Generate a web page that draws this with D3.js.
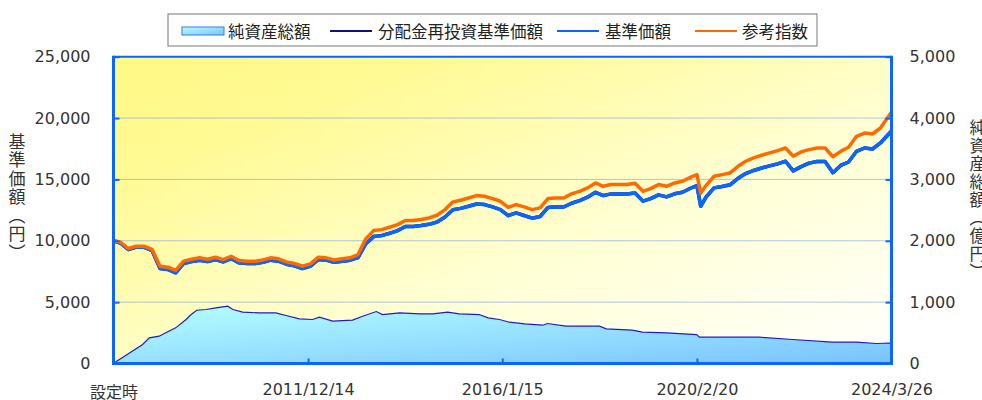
<html>
<meta charset='utf-8'>
<head>
<script src="https://d3js.org/d3.v7.min.js"></script>
<style>
  body { margin: 0; background: #fff; }
  svg text { font-family: "DejaVu Sans", Verdana, sans-serif; }
  svg .jp { font-family: "Noto Sans CJK JP", sans-serif; }
</style>
</head>
<body>
<div id='viz'></div>
<script>
// 基準価額・参考指数の日付
let dates = [
  "2007-11-09","2008-01-01","2008-03-01","2008-05-01","2008-07-01","2008-09-01","2008-11-01",
  "2009-01-01","2009-03-01","2009-05-01","2009-07-01","2009-09-01","2009-11-01",
  "2010-01-01","2010-03-01","2010-05-01","2010-07-01","2010-09-01","2010-11-01",
  "2011-01-01","2011-03-01","2011-05-01","2011-07-01","2011-09-01","2011-11-01",
  "2012-01-01","2012-03-01","2012-05-01","2012-07-01","2012-09-01","2012-11-01",
  "2013-01-01","2013-03-01","2013-05-01","2013-07-01","2013-09-01","2013-11-01",
  "2014-01-01","2014-03-01","2014-05-01","2014-07-01","2014-09-01","2014-11-01",
  "2015-01-01","2015-03-01","2015-05-01","2015-07-01","2015-09-01","2015-11-01",
  "2016-01-01","2016-03-01","2016-05-01","2016-07-01","2016-09-01","2016-11-01",
  "2017-01-01","2017-03-01","2017-05-01","2017-07-01","2017-09-01","2017-11-01",
  "2018-01-01","2018-03-01","2018-05-01","2018-07-01","2018-09-01","2018-11-01",
  "2019-01-01","2019-03-01","2019-05-01","2019-07-01","2019-09-01","2019-11-01",
  "2020-01-01","2020-02-20","2020-03-20","2020-05-01","2020-07-01","2020-09-01","2020-11-01",
  "2021-01-01","2021-03-01","2021-05-01","2021-07-01","2021-09-01","2021-11-01",
  "2022-01-01","2022-03-01","2022-05-01","2022-07-01","2022-09-01","2022-11-01",
  "2023-01-01","2023-03-01","2023-05-01","2023-07-01","2023-09-01","2023-11-01",
  "2024-01-01","2024-03-26"
];

// 参考指数
let refIndex = [
  10000, 9900, 9370, 9560, 9560, 9290, 7930,
  7850, 7580, 8340, 8500, 8610, 8500,
  8660, 8470, 8740, 8390, 8340, 8340,
  8440, 8610, 8530, 8280, 8150, 7930,
  8120, 8660, 8610, 8440, 8530, 8610,
  8880, 10150, 10830, 10910, 11100, 11320,
  11650, 11650, 11730, 11860, 12080, 12540,
  13170, 13300, 13490, 13680, 13630, 13440,
  13220, 12730, 12950, 12760, 12540, 12680,
  13440, 13490, 13490, 13820, 14030, 14310,
  14710, 14440, 14580, 14580, 14580, 14690,
  14030, 14250, 14580, 14440, 14710, 14850,
  15170, 15390, 13900, 14520, 15260, 15390, 15530,
  16070, 16480, 16750, 16970, 17160, 17350,
  17560, 16900, 17240, 17430, 17560, 17560,
  16850, 17290, 17620, 18510, 18780, 18700,
  19190, 20490
];

// 基準価額
let nav = [
  10000, 9820, 9290, 9480, 9480, 9200, 7740,
  7660, 7390, 8150, 8310, 8420, 8310,
  8470, 8280, 8550, 8200, 8150, 8150,
  8250, 8420, 8340, 8090, 7960, 7740,
  7930, 8470, 8420, 8250, 8340, 8420,
  8630, 9750, 10340, 10420, 10610, 10830,
  11160, 11160, 11240, 11340, 11530, 11940,
  12530, 12640, 12810, 13000, 12950, 12760,
  12540, 12050, 12270, 12060, 11840, 11980,
  12720, 12770, 12750, 13060, 13270, 13550,
  13950, 13680, 13820, 13820, 13820, 13900,
  13230, 13430, 13740, 13580, 13830, 13950,
  14280, 14500, 12810, 13570, 14310, 14430, 14560,
  15090, 15480, 15730, 15930, 16100, 16270,
  16480, 15700, 16040, 16330, 16460, 16460,
  15550, 16140, 16420, 17290, 17560, 17480,
  17970, 18950
];

// 分配金再投資基準価額 (分配なしのため基準価額と重なる)
let navReinvest = nav;

// 純資産総額 (億円)
let assetDates = [
  "2007-11-09","2008-04-01","2008-06-20","2008-08-10","2008-10-25","2008-12-15",
  "2009-03-01","2009-05-20","2009-06-28","2009-08-10","2009-10-20","2010-01-05",
  "2010-04-05","2010-05-15","2010-07-30","2010-12-05","2011-04-10","2011-06-28",
  "2011-10-08","2012-01-18","2012-03-10","2012-06-20","2012-11-20","2013-02-05",
  "2013-05-22","2013-07-08","2013-11-18","2014-04-20","2014-07-30","2014-11-20",
  "2015-02-20","2015-07-22","2015-09-28","2015-12-25","2016-03-10","2016-07-05",
  "2016-11-20","2016-12-28","2017-05-20","2018-02-01","2018-03-25","2018-10-10",
  "2018-12-28","2019-07-01","2020-02-18","2020-03-10","2020-07-20","2021-06-15",
  "2022-02-25","2022-12-28","2023-07-01","2023-12-01","2024-03-10","2024-03-26"
];
let assets = [
  5, 200, 310, 418, 445, 500,
  581, 717, 798, 868, 880, 907,
  934, 880, 836, 825, 825, 782,
  728, 717, 755, 690, 706, 771,
  847, 798, 825, 809, 809, 836,
  809, 798, 744, 717, 673, 646,
  624, 652, 608, 608, 565, 543,
  510, 500, 472, 429, 429, 429,
  391, 347, 347, 326, 334, 330
];

let xTickDates = ["2007-11-09","2011-12-14","2016-01-15","2020-02-20","2024-03-26"];
let xTickLabels = ["設定時","2011/12/14","2016/1/15","2020/2/20","2024/3/26"];
let leftTicks = [0, 5000, 10000, 15000, 20000, 25000];
let rightTicks = [0, 1000, 2000, 3000, 4000, 5000];
let gridTicks = [5000, 10000, 15000, 20000];
let legendLabels = ["純資産総額", "分配金再投資基準価額", "基準価額", "参考指数"];

let parse = d3.timeParse("%Y-%m-%d");
let x0 = 113.5, x1 = 891.5, y0 = 56.7, y1 = 363.5;
let blue = '#0a66ff';

let svg = d3.select('#viz').append('svg')
  .attr('width', 982)
  .attr('height', 400);

let x = d3.scaleTime()
  .domain([parse(xTickDates[0]), parse(xTickDates[4])])
  .range([x0, x1]);
let yL = d3.scaleLinear().domain([0, 25000]).range([y1, y0]);
let yR = d3.scaleLinear().domain([0, 5000]).range([y1, y0]);

let defs = svg.append('defs');
let bg = defs.append('linearGradient').attr('id', 'bg')
  .attr('x1', 0).attr('y1', 0).attr('x2', 1).attr('y2', 1);
bg.append('stop').attr('offset', 0).attr('stop-color', '#fff985');
bg.append('stop').attr('offset', 0.2).attr('stop-color', '#fffa94');
bg.append('stop').attr('offset', 0.6).attr('stop-color', '#ffffd4');
bg.append('stop').attr('offset', 1).attr('stop-color', '#ffffff');

let ag = defs.append('linearGradient').attr('id', 'areaFill')
  .attr('x1', 0).attr('y1', 0).attr('x2', 1).attr('y2', 1);
ag.append('stop').attr('offset', 0).attr('stop-color', '#b6ffff');
ag.append('stop').attr('offset', 1).attr('stop-color', '#78c2ff');

// 背景
svg.append('rect')
  .attr('x', x0).attr('y', y0)
  .attr('width', x1 - x0).attr('height', y1 - y0)
  .attr('fill', 'url(#bg)');

// グリッド
svg.append('g').selectAll('line')
  .data(gridTicks)
  .join('line')
  .attr('x1', x0).attr('x2', x1)
  .attr('y1', d => yL(d)).attr('y2', d => yL(d))
  .attr('stroke', '#5a8ee6')
  .attr('stroke-width', 1)
  .attr('stroke-dasharray', '1,1');

// 純資産総額
let assetData = assetDates.map((d, i) => ({ date: parse(d), value: assets[i] }));
svg.append('path')
  .datum(assetData)
  .attr('d', d3.area().x(d => x(d.date)).y0(y1).y1(d => yR(d.value)))
  .attr('fill', 'url(#areaFill)');
svg.append('path')
  .datum(assetData)
  .attr('d', d3.line().x(d => x(d.date)).y(d => yR(d.value)))
  .attr('fill', 'none')
  .attr('stroke', '#1c1ccc')
  .attr('stroke-width', 1.2);

let line = d3.line().x((d, i) => x(parse(dates[i]))).y(d => yL(d));
let series = [
  { values: navReinvest, color: '#101080' },
  { values: nav, color: blue },
  { values: refIndex, color: '#ff6a00' }
];
series.forEach(s => {
  svg.append('path')
    .datum(s.values)
    .attr('d', line)
    .attr('fill', 'none')
    .attr('stroke', s.color)
    .attr('stroke-width', 3.5)
    .attr('stroke-linejoin', 'round');
});

// 枠
svg.append('line').attr('x1', x0).attr('x2', x1).attr('y1', y0).attr('y2', y0)
  .attr('stroke', blue).attr('stroke-width', 2);
svg.append('path')
  .attr('d', `M${x0},${y0 - 1}V${y1}H${x1}V${y0 - 1}`)
  .attr('fill', 'none').attr('stroke', blue).attr('stroke-width', 3);

// 軸
let gl = svg.append('g')
  .attr('transform', `translate(${x0},0)`)
  .attr('color', blue)
  .call(d3.axisLeft(yL).tickValues(leftTicks).tickFormat(d3.format(','))
    .tickSizeInner(-6).tickSizeOuter(0).tickPadding(23));
let gr = svg.append('g')
  .attr('transform', `translate(${x1},0)`)
  .attr('color', blue)
  .call(d3.axisRight(yR).tickValues(rightTicks).tickFormat(d3.format(','))
    .tickSizeInner(-6).tickSizeOuter(0).tickPadding(18));
let gb = svg.append('g')
  .attr('transform', `translate(0,${y1})`)
  .attr('color', blue)
  .call(d3.axisBottom(x).tickValues(xTickDates.map(parse))
    .tickFormat((d, i) => xTickLabels[i])
    .tickSizeInner(-5).tickSizeOuter(0).tickPadding(20));

[gl, gr, gb].forEach(g => {
  g.select('.domain').remove();
  g.selectAll('.tick line').attr('stroke-width', 2);
  g.selectAll('text').attr('fill', '#333').style('font-size', '16px');
});
gb.select('.tick text').attr('class', 'jp').attr('dy', '0.9em');

// 軸タイトル
svg.append('text')
  .attr('class', 'jp')
  .attr('x', 17).attr('y', 133)
  .style('writing-mode', 'vertical-rl')
  .style('font-size', '17px')
  .style('letter-spacing', '1.5px')
  .attr('fill', '#333')
  .text('基準価額（円）');
svg.append('text')
  .attr('class', 'jp')
  .attr('x', 978).attr('y', 119)
  .style('writing-mode', 'vertical-rl')
  .style('font-size', '17px')
  .style('letter-spacing', '1px')
  .attr('fill', '#333')
  .text('純資産総額（億円）');

// 凡例
let lg = svg.append('g');
lg.append('rect')
  .attr('x', 168).attr('y', 14).attr('width', 649).attr('height', 32)
  .attr('fill', '#fff').attr('stroke', '#777').attr('stroke-width', 1);
lg.append('rect')
  .attr('x', 182).attr('y', 27).attr('width', 42).attr('height', 8)
  .attr('fill', 'url(#areaFill)').attr('stroke', '#3a7be0').attr('stroke-width', 1);
let legendLines = [
  { x: 330, color: '#101080' },
  { x: 557, color: blue },
  { x: 695, color: '#ff6a00' }
];
legendLines.forEach(l => {
  lg.append('line')
    .attr('x1', l.x).attr('x2', l.x + 42)
    .attr('y1', 31).attr('y2', 31)
    .attr('stroke', l.color).attr('stroke-width', 2);
});
let legendX = [228, 378, 605, 742];
legendLabels.forEach((t, i) => {
  lg.append('text')
    .attr('class', 'jp')
    .attr('x', legendX[i]).attr('y', 31)
    .attr('dominant-baseline', 'central')
    .style('font-size', '16.5px')
    .attr('fill', '#222')
    .text(t);
});
</script>
</body>
</html>
